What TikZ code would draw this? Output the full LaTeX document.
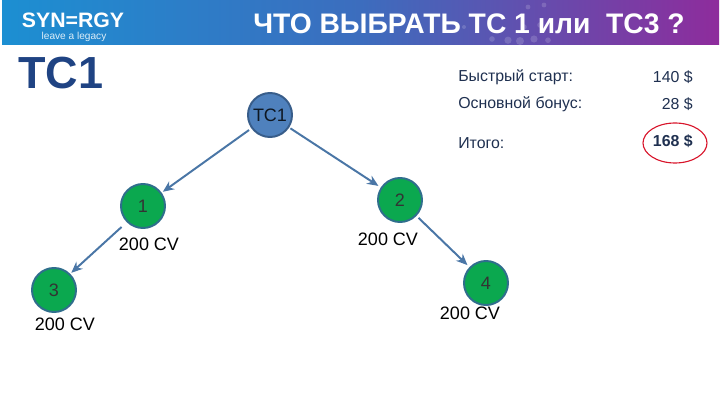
\documentclass[tikz,border=0pt]{standalone}
\usepackage{fontspec}
\setmainfont{Liberation Sans}
\usetikzlibrary{positioning,arrows.meta,shapes.geometric}
\definecolor{hblue}{HTML}{1C8FD2}
\definecolor{hmid}{HTML}{3C6DBE}
\definecolor{hpurple}{HTML}{8E2C9C}
\definecolor{tcblue}{HTML}{1F4383}
\definecolor{topfill}{HTML}{4F81BD}
\definecolor{topline}{HTML}{385D8A}
\definecolor{nodegreen}{HTML}{0BA84F}
\definecolor{nodeline}{HTML}{2F6E8C}
\definecolor{arrowblue}{HTML}{4A76A6}
\definecolor{textnavy}{HTML}{1F3050}
\definecolor{ringred}{HTML}{D8152B}

\begin{document}
\begin{tikzpicture}[font=\fontsize{12.8}{15}\selectfont,
       member/.style={circle,fill=nodegreen,draw=nodeline,line width=1.4pt,minimum size=1.1cm,inner sep=0pt,text=black!80},
       conn/.style={-{Stealth[length=2.8mm,width=2.4mm]},arrowblue,line width=1.4pt},
       cv/.style={text=black,inner sep=0pt},
       row/.style={text=textnavy,inner sep=0pt,font=\fontsize{11.3}{13}\selectfont}]
      \useasboundingbox (0,0) rectangle (18,10.125);
      % header band
      \fill[left color=hblue,right color=hpurple,middle color=hmid] (0.05,9) rectangle (17.975,10.125);
      \foreach \x/\y/\r in {12.3/9.15/.07,12.7/9.12/.09,13/9.1/.1,13.35/9.15/.09,13.7/9.12/.07,13.1/9.45/.07,13.5/9.5/.07,13.2/9.95/.06,13.6/10/.06,11.6/9.45/.05}
        \fill[white,opacity=.16] (\x,\y) circle (\r);
      \node[text=white,inner sep=0pt,font=\bfseries\fontsize{13.5}{15}\selectfont,xscale=1.12,yscale=1.1] (logo) at (1.825,9.625) {SYN=RGY};
      \node[text=white!85!hblue,inner sep=0pt,font=\fontsize{7.2}{9}\selectfont] (slogan) at (1.85,9.2) {leave a legacy};
      \node[text=white,inner sep=0pt,font=\bfseries\fontsize{20.1}{23}\selectfont] (title) at (11.725,9.52) {ЧТО ВЫБРАТЬ ТС 1 или\ \ ТС3 ?};
      \node[text=tcblue,inner sep=0pt,font=\bfseries\fontsize{32}{36}\selectfont] (big) at (1.525,8.3) {ТС1};
      % bonus table
      \node[row,anchor=west] (fast) at (11.45,8.2) {Быстрый старт:};
      \node[row,anchor=west] (base) at (11.45,7.525) {Основной бонус:};
      \node[row,anchor=west] (sum) at (11.45,6.55) {Итого:};
      \node[row,anchor=east] (fastval) at (17.325,8.2) {140 \$};
      \node[row,anchor=east] (baseval) at (17.325,7.525) {28 \$};
      \node[row,anchor=east,font=\bfseries\fontsize{11.3}{13}\selectfont] (sumval) at (17.325,6.6) {168 \$};
      \node[ellipse,draw=ringred,line width=0.8pt,minimum width=1.6cm,minimum height=1cm,inner sep=0pt] (ring) at (16.875,6.55) {};
      % tree
      \node[member,fill=topfill,draw=topline,text=black!75!topline] (TC) at (6.75,7.25) {ТС1};
      \node[member] (A) at (3.575,4.975) {1};
      \node[member] (B) at (10,5.125) {2};
      \node[member] (C) at (1.35,2.875) {3};
      \node[member] (D) at (12.15,3.05) {4};
      \node[cv] (Acv) at (3.725,4.025) {200 CV};
      \node[cv] (Bcv) at (9.7,4.15) {200 CV};
      \node[cv] (Ccv) at (1.625,2.025) {200 CV};
      \node[cv] (Dcv) at (11.75,2.3) {200 CV};
      \draw[conn,shorten <=2pt,shorten >=1pt] (TC)--(A);
      \draw[conn,shorten <=1pt,shorten >=2pt] (TC)--(B);
      \draw[conn,shorten <=5pt,shorten >=1pt] (A.225)--(C.45);
      \draw[conn,shorten <=2pt,shorten >=2pt] (B)--(D);
    \end{tikzpicture}
\end{document}
